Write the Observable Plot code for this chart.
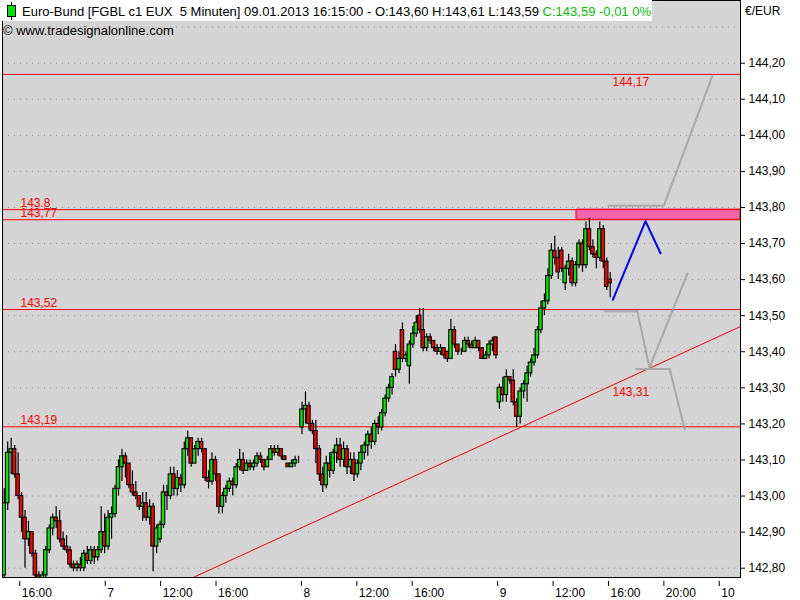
<!DOCTYPE html>
<html><head><meta charset="utf-8">
<script src="https://cdn.jsdelivr.net/npm/d3@7"></script>
<script src="https://cdn.jsdelivr.net/npm/@observablehq/plot@0.6"></script>
<style>
body{margin:0;background:#fff;font-family:"Liberation Sans",Arial,sans-serif;}
#wrap{position:relative;width:800px;height:600px;overflow:hidden}
.abs{position:absolute}
.t{position:absolute;font-size:13px;line-height:15px;white-space:pre;color:#000}
</style></head><body>
<div id="wrap"></div>
<script>
// 15-minute OHLC (slot = 5-minute bar index in trading time)
const open  = [142.78,142.98,143.12,143.13,143.06,143.00,142.94,142.88,142.90,142.84,142.78,142.77,142.78,142.85,142.91,142.94,142.93,142.88,142.86,142.85,142.81,142.80,142.81,142.80,142.84,142.82,142.85,142.83,142.85,142.90,142.86,142.94,142.95,143.02,143.08,143.11,143.09,143.03,143.01,143.00,142.97,142.98,142.94,142.97,142.86,142.88,142.92,143.01,143.00,143.06,143.02,143.05,143.03,143.13,143.16,143.09,143.13,143.15,143.13,143.05,143.04,143.10,143.06,142.97,143.00,143.02,143.04,143.03,143.08,143.10,143.07,143.09,143.08,143.09,143.11,143.10,143.08,143.10,143.13,143.12,143.13,143.11,143.09,143.08,143.09,143.10,143.19,143.24,143.25,143.20,143.18,143.13,143.06,143.03,143.09,143.07,143.12,143.14,143.10,143.13,143.08,143.10,143.06,143.09,143.12,143.14,143.17,143.15,143.20,143.19,143.23,143.27,143.30,143.40,143.35,143.46,143.38,143.36,143.42,143.45,143.50,143.46,143.41,143.44,143.43,143.41,143.40,143.41,143.40,143.38,143.46,143.42,143.40,143.40,143.43,143.42,143.41,143.43,143.41,143.38,143.39,143.42,143.44,143.26,143.30,143.28,143.33,143.32,143.26,143.22,143.29,143.31,143.34,143.37,143.39,143.46,143.52,143.54,143.61,143.68,143.66,143.68,143.59,143.63,143.65,143.59,143.64,143.70,143.64,143.74,143.69,143.67,143.66,143.74,143.65,143.60];
const high  = [143.02,143.15,143.16,143.14,143.12,143.01,142.96,142.93,142.90,142.85,142.79,142.79,142.86,142.92,142.95,142.97,142.96,142.90,142.89,142.86,142.82,142.82,142.83,142.85,142.86,142.86,142.86,142.86,142.97,142.95,142.96,142.97,143.03,143.10,143.13,143.12,143.09,143.07,143.04,143.00,143.01,143.01,142.99,142.98,142.92,142.93,143.03,143.03,143.08,143.08,143.07,143.06,143.15,143.18,143.16,143.14,143.16,143.16,143.13,143.07,143.12,143.11,143.06,143.01,143.03,143.05,143.05,143.09,143.13,143.12,143.10,143.10,143.10,143.12,143.12,143.10,143.11,143.14,143.14,143.14,143.13,143.11,143.09,143.10,143.11,143.11,143.26,143.29,143.26,143.21,143.21,143.14,143.08,143.11,143.12,143.13,143.16,143.16,143.15,143.14,143.12,143.12,143.10,143.14,143.15,143.18,143.19,143.21,143.22,143.24,143.28,143.31,143.34,143.42,143.40,143.48,143.40,143.43,143.47,143.50,143.52,143.52,143.45,143.45,143.43,143.42,143.42,143.41,143.40,143.49,143.47,143.42,143.41,143.44,143.44,143.43,143.44,143.43,143.41,143.40,143.43,143.44,143.44,143.31,143.33,143.35,143.33,143.35,143.27,143.30,143.32,143.36,143.38,143.41,143.47,143.54,143.56,143.63,143.70,143.72,143.69,143.69,143.64,143.67,143.66,143.65,143.71,143.71,143.76,143.77,143.71,143.68,143.76,143.75,143.66,143.62];
const low   = [142.76,142.96,143.06,143.05,142.99,142.90,142.80,142.86,142.83,142.76,142.75,142.75,142.77,142.84,142.89,142.91,142.87,142.85,142.84,142.80,142.79,142.79,142.79,142.79,142.81,142.81,142.81,142.82,142.84,142.84,142.85,142.88,142.94,143.00,143.04,143.05,143.02,143.00,142.99,142.96,142.93,142.93,142.92,142.79,142.84,142.87,142.91,142.96,142.99,143.00,143.00,143.01,143.02,143.11,143.08,143.09,143.11,143.12,143.04,143.02,143.03,143.04,142.95,142.95,142.98,143.01,143.00,143.02,143.07,143.06,143.07,143.07,143.07,143.08,143.09,143.07,143.08,143.10,143.11,143.11,143.10,143.10,143.08,143.08,143.08,143.09,143.17,143.20,143.18,143.17,143.09,143.04,143.01,143.02,143.05,143.06,143.09,143.08,143.08,143.06,143.06,143.04,143.05,143.07,143.10,143.11,143.13,143.14,143.17,143.18,143.22,143.26,143.28,143.33,143.34,143.37,143.37,143.31,143.41,143.44,143.45,143.40,143.40,143.42,143.40,143.39,143.39,143.38,143.37,143.38,143.41,143.39,143.39,143.40,143.41,143.41,143.41,143.40,143.38,143.38,143.38,143.40,143.38,143.24,143.26,143.26,143.31,143.25,143.19,143.20,143.27,143.26,143.33,143.36,143.38,143.45,143.50,143.53,143.60,143.64,143.60,143.62,143.57,143.61,143.58,143.58,143.63,143.62,143.63,143.68,143.66,143.63,143.65,143.63,143.57,143.55];
const close = [142.98,143.12,143.13,143.06,143.00,142.94,142.88,142.90,142.84,142.78,142.77,142.78,142.85,142.91,142.94,142.93,142.88,142.86,142.85,142.81,142.80,142.81,142.80,142.84,142.82,142.85,142.83,142.85,142.90,142.86,142.94,142.95,143.02,143.08,143.11,143.09,143.03,143.01,143.00,142.97,142.98,142.94,142.97,142.86,142.91,142.92,143.01,143.00,143.06,143.02,143.05,143.03,143.13,143.16,143.09,143.13,143.15,143.13,143.05,143.04,143.10,143.06,142.97,143.00,143.02,143.04,143.03,143.08,143.10,143.07,143.09,143.08,143.09,143.11,143.10,143.08,143.10,143.13,143.12,143.13,143.11,143.10,143.08,143.09,143.10,143.10,143.24,143.25,143.20,143.18,143.13,143.06,143.03,143.09,143.07,143.12,143.14,143.10,143.13,143.08,143.10,143.06,143.09,143.12,143.14,143.17,143.15,143.20,143.19,143.23,143.27,143.30,143.33,143.35,143.38,143.38,143.39,143.42,143.45,143.48,143.46,143.41,143.44,143.43,143.41,143.40,143.41,143.39,143.38,143.46,143.42,143.40,143.40,143.43,143.42,143.41,143.43,143.41,143.38,143.39,143.42,143.43,143.39,143.30,143.28,143.33,143.32,143.26,143.22,143.29,143.31,143.34,143.37,143.39,143.46,143.52,143.54,143.61,143.68,143.66,143.62,143.63,143.63,143.65,143.59,143.64,143.70,143.64,143.74,143.69,143.67,143.66,143.74,143.65,143.58,143.59];

// axis ticks
const xTickSlots  = [15, 89, 137, 185, 259, 307, 355, 429, 477, 525, 573, 621];
const xTickLabels = ["16:00","7","12:00","16:00","8","12:00","16:00","9","12:00","16:00","20:00","10"];
const yTickValues = [142.8,142.9,143.0,143.1,143.2,143.3,143.4,143.5,143.6,143.7,143.8,143.9,144.0,144.1,144.2];
const gridValues  = [...yTickValues, 144.3];

// horizontal levels
const levelValues = [144.169, 143.794, 143.766, 143.517, 143.192];
const levelLabels = ["144,17", "143.8", "143,77", "143,52", "143,19"];
// zone between the two upper levels
const zoneStart = 497.3, zoneTop = 143.794, zoneBottom = 143.766;
// trend line
const trendSlots = [165, 639.4], trendPrices = [142.774, 143.47];
const trendLabel = "143,31", trendLabelValue = 143.31, trendLabelSlot = 528.5;
// scenario paths
const upSlots = [525, 573, 615],           upPrices = [143.805, 143.805, 144.165];
const midSlots = [521.6, 550, 560.5, 593.5], midPrices = [143.512, 143.512, 143.356, 143.617];
const lowSlots = [549, 578, 591],          lowPrices = [143.352, 143.352, 143.185];
const blueSlots = [528.8, 557.1, 570.1],   bluePrices = [143.544, 143.762, 143.673];

const candles = open.map((o, i) => ({x: 3 * i + 1.5, o, h: high[i], l: low[i], c: close[i]}));
const pts = (xs, ys) => xs.map((x, i) => ({x, y: ys[i]}));
const labelMap = new Map(xTickSlots.map((s, i) => [s, xTickLabels[i]]));
const fmt = d => d.toFixed(2).replace(".", ",");
const RED = "#ff0000", GREEN = "#00ec00", GRAY = "#a9a9a9";
const xMax = 639.4;

const chart = Plot.plot({
  width: 800, height: 600,
  marginLeft: 2, marginRight: 60, marginTop: 0, marginBottom: 23,
  style: {fontFamily: '"Liberation Sans", Arial, sans-serif', fontSize: "12px", background: "white", color: "black", overflow: "visible"},
  x: {domain: [0, xMax], label: null},
  y: {domain: [142.7742, 144.3738], label: null},
  color: {type: "identity"},
  marks: [
    Plot.frame({fill: "#d4d4d4", stroke: null}),
    Plot.ruleY(gridValues, {stroke: "#999", strokeDasharray: "1,5"}),
    Plot.rect([0], {x1: zoneStart, x2: xMax, y1: zoneBottom, y2: zoneTop, fill: "#f066aa", stroke: RED}),
    Plot.ruleY(levelValues, {stroke: RED}),
    Plot.line(pts(trendSlots, trendPrices), {x: "x", y: "y", stroke: RED, strokeWidth: 1, clip: true}),
    Plot.line(pts(upSlots, upPrices), {x: "x", y: "y", stroke: GRAY, strokeWidth: 2}),
    Plot.line(pts(midSlots, midPrices), {x: "x", y: "y", stroke: GRAY, strokeWidth: 2}),
    Plot.line(pts(lowSlots, lowPrices), {x: "x", y: "y", stroke: GRAY, strokeWidth: 2}),
    Plot.ruleX(candles, {x: "x", y1: "l", y2: "h", stroke: "black", strokeWidth: 1.2, clip: true}),
    Plot.rect(candles, {x1: d => d.x - 1.5, x2: d => d.x + 1.5, y1: "o", y2: "c",
      fill: d => d.c >= d.o ? GREEN : RED, stroke: "black", strokeWidth: 1.1, clip: true}),
    Plot.line(pts(blueSlots, bluePrices), {x: "x", y: "y", stroke: "#0000ff", strokeWidth: 2}),
    Plot.text(levelValues.slice(1), {y: d => d, text: (d, i) => levelLabels[i + 1], frameAnchor: "left", dx: 18, dy: -2.5,
      lineAnchor: "bottom", textAnchor: "start", fill: RED, fontSize: 12}),
    Plot.text([levelValues[0]], {x: trendLabelSlot, y: d => d, text: () => levelLabels[0], dy: 3, lineAnchor: "top",
      textAnchor: "start", fill: RED, fontSize: 12}),
    Plot.text([trendLabelValue], {x: trendLabelSlot, y: d => d, text: () => trendLabel, dy: 3.3, lineAnchor: "top",
      textAnchor: "start", fill: RED, fontSize: 12}),
    Plot.axisY({anchor: "right", ticks: yTickValues, tickFormat: fmt, tickSize: 4, tickPadding: 4, fontSize: 12}),
    Plot.axisX({ticks: xTickSlots, tickSize: 5, tickFormat: () => "", dy: 4}),
    Plot.axisX({ticks: xTickSlots, tickSize: 0, tickPadding: 10.5, tickFormat: d => labelMap.get(d), textAnchor: "start", dx: 2, fontSize: 12}),
    Plot.frame({stroke: "black"})
  ]
});

const wrap = document.getElementById("wrap");
wrap.appendChild(chart);
wrap.insertAdjacentHTML("beforeend", `
<div class="abs" style="left:0;top:0;width:652px;height:21px;background:#fff"></div>
<div class="abs" style="left:11px;top:2px;width:1px;height:18px;background:#000"></div>
<div class="abs" style="left:7px;top:5px;width:7px;height:10px;background:#00e400;border:1px solid #000"></div>
<div class="t" style="left:22px;top:4px">Euro-Bund [FGBL c1 EUX  5 Minuten] 09.01.2013 16:15:00 - O:143,60 H:143,61 L:143,59 <span style="color:#00c000">C:143,59 -0,01 0%</span></div>
<div class="t" style="left:3px;top:23px">© www.tradesignalonline.com</div>
<div class="t" style="left:745px;top:4px;font-size:12px;line-height:14px">€/EUR</div>
`);
</script>
</body></html>
